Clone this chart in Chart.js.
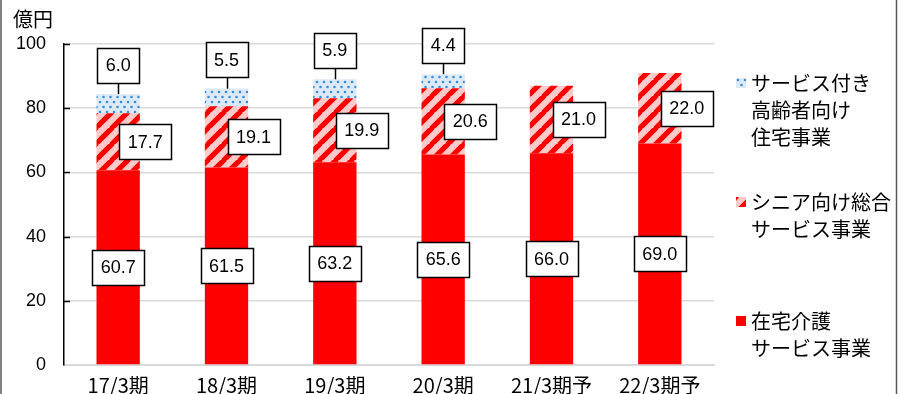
<!DOCTYPE html>
<html><head><meta charset="utf-8">
<script src="https://cdn.jsdelivr.net/npm/chart.js@4/dist/chart.umd.min.js"></script>
<style>html,body{margin:0;padding:0;background:#fff;overflow:hidden}#wrap{width:903px;height:394px;position:relative}</style>
</head><body><div id="wrap"><canvas id="c" width="903" height="394"></canvas></div>
<script>
// ---- data ----
const categories = ['17/3期','18/3期','19/3期','20/3期','21/3期予','22/3期予'];
const homeCare = [60.7, 61.5, 63.2, 65.6, 66.0, 69.0];
const seniorService = [17.7, 19.1, 19.9, 20.6, 21.0, 22.0];
const servicedHousing = [6.0, 5.5, 5.9, 4.4, null, null];
const seriesNames = [
  ['在宅介護', 'サービス事業'],
  ['シニア向け総合', 'サービス事業'],
  ['サービス付き', '高齢者向け', '住宅事業']
];
const yTicks = [0, 20, 40, 60, 80, 100];
const unitLabel = '億円';

// ---- patterns ----
function stripePattern() {
  const P = 16, c = document.createElement('canvas');
  c.width = P; c.height = P;
  const g = c.getContext('2d');
  g.fillStyle = '#FFCACA'; g.fillRect(0, 0, P, P);
  g.strokeStyle = '#FF0000'; g.lineWidth = 5.2;
  for (let k = -1; k <= 1; k++) {
    g.beginPath(); g.moveTo(k * P - 1, P + 1); g.lineTo(k * P + P + 1, -1); g.stroke();
  }
  return g.createPattern(c, 'repeat');
}
function dotPattern() {
  const W = 7, H = 10, c = document.createElement('canvas');
  c.width = W * 2; c.height = H;
  const g = c.getContext('2d');
  g.fillStyle = '#DCEAF7'; g.fillRect(0, 0, W * 2, H);
  g.fillStyle = '#3A8EDB';
  [[2, 2], [9, 2], [5.5, 7], [12.5, 7]].forEach(([x, y]) => {
    g.beginPath(); g.arc(x, y, 1.3, 0, Math.PI * 2); g.fill();
  });
  return g.createPattern(c, 'repeat');
}
const fills = ['#FF0000', stripePattern(), dotPattern()];

const numFont = '"Liberation Sans", Arial, sans-serif';
const jpFont = '"Noto Sans CJK JP", sans-serif';

// ---- plugins ----
const framePlugin = {
  id: 'frame',
  beforeDraw(chart) {
    const ctx = chart.ctx;
    ctx.save();
    ctx.fillStyle = '#fff'; ctx.fillRect(0, 0, chart.width, chart.height);
    ctx.strokeStyle = '#595959'; ctx.lineWidth = 1.5;
    ctx.beginPath(); ctx.moveTo(1, 0); ctx.lineTo(1, chart.height);
    ctx.moveTo(896.5, 0); ctx.lineTo(896.5, chart.height); ctx.stroke();
    ctx.fillStyle = '#000'; ctx.font = '20px ' + jpFont;
    ctx.textBaseline = 'middle'; ctx.textAlign = 'left';
    ctx.fillText(unitLabel, 13, 19);
    ctx.restore();
  },
  afterDraw(chart) {
    const ctx = chart.ctx, ys = chart.scales.y, left = chart.chartArea.left;
    ctx.save();
    ctx.strokeStyle = '#000'; ctx.lineWidth = 1.5;
    ys.ticks.forEach(t => {
      if (t.value === 0) return;
      const y = Math.round(ys.getPixelForValue(t.value)) + 0.5;
      ctx.beginPath(); ctx.moveTo(left - 1, y); ctx.lineTo(left + 6, y); ctx.stroke();
    });
    // legend
    const itemY = [321, 202, 83];
    for (let i = 0; i < 3; i++) {
      ctx.fillStyle = fills[i];
      ctx.save(); ctx.translate(736, itemY[i] - 5);
      ctx.fillRect(0, 0, 10, 10); ctx.restore();
      ctx.fillStyle = '#000'; ctx.font = '20px ' + jpFont;
      ctx.textBaseline = 'middle'; ctx.textAlign = 'left';
      seriesNames[i].forEach((line, j) => ctx.fillText(line, 751, itemY[i] + j * 27));
    }
    ctx.restore();
  }
};

function box(ctx, cx, cy, text) {
  ctx.font = '18px ' + numFont;
  const w = Math.round(ctx.measureText(text).width + 17), h = 35;
  const x = Math.round(cx - w / 2) + 0.5, y = Math.round(cy - h / 2) + 0.5;
  ctx.fillStyle = '#fff'; ctx.fillRect(x, y, w, h);
  ctx.strokeStyle = '#000'; ctx.lineWidth = 1.5; ctx.strokeRect(x, y, w, h);
  ctx.fillStyle = '#000'; ctx.textAlign = 'center'; ctx.textBaseline = 'middle';
  ctx.fillText(text, cx, cy + 1);
  return { top: y, bottom: y + h };
}

const labelPlugin = {
  id: 'labels',
  afterDatasetsDraw(chart) {
    const ctx = chart.ctx;
    ctx.save();
    chart.data.datasets.forEach((ds, di) => {
      const meta = chart.getDatasetMeta(di);
      meta.data.forEach((el, i) => {
        const v = ds.data[i];
        if (v == null) return;
        const p = el.getProps(['x', 'y', 'base'], true);
        const mid = (p.y + p.base) / 2;
        if (di === 0) box(ctx, p.x, mid, v.toFixed(1));
        else if (di === 1) box(ctx, p.x + 27, mid, v.toFixed(1));
        else {
          const b = box(ctx, p.x, p.y - 29, v.toFixed(1));
          ctx.strokeStyle = '#000'; ctx.lineWidth = 1.5;
          ctx.beginPath(); ctx.moveTo(Math.round(p.x) + 0.5, b.bottom); ctx.lineTo(Math.round(p.x) + 0.5, p.y); ctx.stroke();
        }
      });
    });
    ctx.restore();
  }
};

new Chart(document.getElementById('c'), {
  type: 'bar',
  data: {
    labels: categories,
    datasets: [
      { label: seriesNames[0].join(''), data: homeCare, backgroundColor: fills[0] },
      { label: seriesNames[1].join(''), data: seniorService, backgroundColor: fills[1] },
      { label: seriesNames[2].join(''), data: servicedHousing, backgroundColor: fills[2] }
    ]
  },
  options: {
    responsive: false,
    animation: false,
    devicePixelRatio: 1,
    layout: { padding: { left: 0, right: 189, top: 44, bottom: 0 } },
    datasets: { bar: { categoryPercentage: 1, barPercentage: 0.4, borderWidth: 0 } },
    plugins: { legend: { display: false }, tooltip: { enabled: false } },
    scales: {
      x: {
        stacked: true,
        grid: { display: false, drawTicks: false },
        border: { color: '#d9d9d9', width: 2 },
        ticks: { color: '#000', font: { family: jpFont, size: 20 }, padding: 8, maxRotation: 0, autoSkip: false },
        afterFit(s) { s.height = 29; }
      },
      y: {
        stacked: true,
        min: 0, max: 100,
        afterBuildTicks(s) { s.ticks = yTicks.map(v => ({ value: v })); },
        grid: { color: '#d9d9d9', lineWidth: 1.5, drawTicks: false },
        border: { color: '#000', width: 1.5 },
        ticks: { color: '#000', font: { family: numFont, size: 18 }, padding: 18 },
        afterFit(s) { s.width = 64; }
      }
    }
  },
  plugins: [framePlugin, labelPlugin]
});
</script></body></html>
